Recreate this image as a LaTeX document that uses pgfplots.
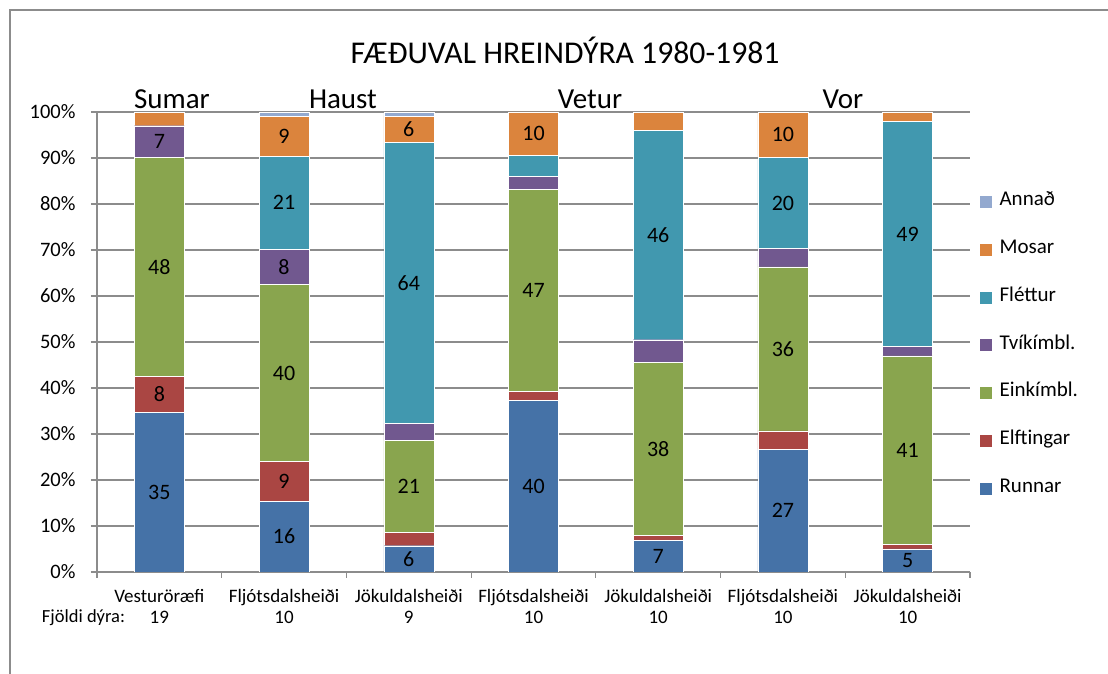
\documentclass[border=0pt]{standalone}
\usepackage{fontspec}
\setmainfont{Carlito}
\usepackage{pgfplots}
\usepackage{pgfplotstable}
\pgfplotsset{compat=1.18}
\definecolor{cRu}{HTML}{4572A7}
\definecolor{cEl}{HTML}{AA4643}
\definecolor{cEi}{HTML}{89A54E}
\definecolor{cTv}{HTML}{71588F}
\definecolor{cFl}{HTML}{4198AF}
\definecolor{cMo}{HTML}{DB843D}
\definecolor{cAn}{HTML}{93A9CF}
\definecolor{gridc}{RGB}{140,140,140}

% heights: shares in % of each bar; *L: the printed labels (0 = no label)
\pgfplotstableread{
x ru ruL el elL ei eiL tv tvL fl flL mo moL an anL
0 34.65 35 7.92 8 47.52 48 6.93 7 0 0 2.97 0 0 0
1 15.38 16 8.65 9 38.46 40 7.69 8 20.19 21 8.65 9 0.96 0
2 5.71 6 2.86 0 20.00 21 3.81 0 60.95 64 5.71 6 0.95 0
3 37.38 40 1.87 0 43.93 47 2.80 0 4.67 0 9.35 10 0 0
4 6.93 7 0.99 0 37.62 38 4.95 0 45.54 46 3.96 0 0 0
5 26.73 27 3.96 0 35.64 36 3.96 0 19.80 20 9.90 10 0 0
6 5.00 5 1.00 0 41.00 41 2.00 0 49.00 49 2.00 0 0 0
}\data

\pgfplotsset{
  seg/.style={fill=#1, draw=white, line width=0.4pt,
    legend image code/.code={\fill[#1] (1pt,-5.5pt) rectangle (12pt,5.5pt); \path (20pt,0pt);}},
}

\begin{document}
\begin{tikzpicture}
\useasboundingbox (-97pt,-102pt) rectangle (1011pt,572pt);
\draw[gridc, line width=1.2pt] (-87pt,-110pt) -- (-87pt,562pt) -- (1020pt,562pt);
\begin{axis}[
  at={(0pt,0pt)}, anchor=south west,
  scale only axis, width=873pt, height=460pt,
  ybar stacked, bar width=50pt,
  xmin=-0.5, xmax=6.5, ymin=0, ymax=100,
  axis x line*=bottom, axis y line*=left,
  axis line style={gridc, line width=1.2pt},
  ymajorgrids, grid style={gridc, line width=1.2pt},
  tick align=outside, major tick length=6pt,
  tick style={gridc, line width=1.2pt},
  ytick={0,10,...,100},
  yticklabel={\pgfmathprintnumber[assume math mode=true]{\tick}\%},
  yticklabel style={font=\fontsize{20.5}{24}\selectfont, xshift=-12pt},
  xtick={-0.5,0.5,...,6.5}, xticklabels={},
  extra x ticks={0,1,2,3,4,5,6},
  extra x tick labels={{Vesturöræfi\\19},{Fljótsdalsheiði\\10},{Jökuldalsheiði\\9},{Fljótsdalsheiði\\10},{Jökuldalsheiði\\10},{Fljótsdalsheiði\\10},{Jökuldalsheiði\\10}},
  extra x tick style={major tick length=0pt, grid=none,
    xticklabel style={align=center, font=\fontsize{19}{21}\selectfont, yshift=-14pt}},
  point meta=explicit,
  nodes near coords={\fontsize{22}{24}\selectfont\pgfmathfloatifflags{\pgfplotspointmeta}{0}{}{\pgfmathprintnumber[assume math mode=true]{\pgfplotspointmeta}}},
  every node near coord/.append style={anchor=center, text=black},
  reverse legend,
  legend style={at={(1.008,0.827)}, anchor=north west, draw=none, fill=none,
    font=\fontsize{21}{22}\selectfont, row sep=31.8pt,
    nodes={inner sep=0pt, text height=12pt, text depth=4pt, anchor=west}},
]
\addplot[seg=cRu] table[x=x, y=ru, meta=ruL] {\data};
\addlegendentry{Runnar}
\addplot[seg=cEl] table[x=x, y=el, meta=elL] {\data};
\addlegendentry{Elftingar}
\addplot[seg=cEi] table[x=x, y=ei, meta=eiL] {\data};
\addlegendentry{Einkímbl.}
\addplot[seg=cTv] table[x=x, y=tv, meta=tvL] {\data};
\addlegendentry{Tvíkímbl.}
\addplot[seg=cFl] table[x=x, y=fl, meta=flL] {\data};
\addlegendentry{Fléttur}
\addplot[seg=cMo] table[x=x, y=mo, meta=moL] {\data};
\addlegendentry{Mosar}
\addplot[seg=cAn] table[x=x, y=an, meta=anL] {\data};
\addlegendentry{Annað}
\end{axis}
\node[font=\fontsize{31.7}{36}\selectfont] at (468pt,522pt) {FÆÐUVAL HREINDÝRA 1980-1981};
\node[font=\fontsize{29}{34}\selectfont] at (75pt,473pt) {Sumar};
\node[font=\fontsize{29}{34}\selectfont] at (246pt,473pt) {Haust};
\node[font=\fontsize{29}{34}\selectfont] at (493pt,473pt) {Vetur};
\node[font=\fontsize{29}{34}\selectfont] at (746pt,473pt) {Vor};
\node[font=\fontsize{18.5}{21}\selectfont] at (-13.5pt,-46pt) {Fjöldi dýra:};
\end{tikzpicture}
\end{document}
